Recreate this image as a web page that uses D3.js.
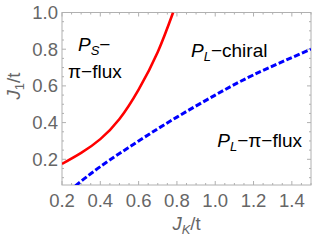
<!DOCTYPE html>
<html>
<head>
<meta charset="utf-8">
<script src="https://cdn.jsdelivr.net/npm/d3@7"></script>
<style>
  body { margin: 0; background: #fff; }
  text { font-family: "Liberation Sans", Arial, sans-serif; }
</style>
</head>
<body>
<div id="chart"></div>
<script>
// boundary curves
var redJK = [0.2, 0.3, 0.4, 0.5, 0.6, 0.7, 0.78];
var redJ1 = [0.175, 0.235, 0.31, 0.42, 0.58, 0.785, 1.0];
var blueJK = [0.27, 0.4, 0.6, 0.8, 1.0, 1.2, 1.5];
var blueJ1 = [0.055, 0.16, 0.3, 0.43, 0.55, 0.66, 0.8];
var xTicks = [0.2, 0.4, 0.6, 0.8, 1.0, 1.2, 1.4];
var yTicks = [0.2, 0.4, 0.6, 0.8, 1.0];

var width = 312, height = 243;
var margin = { left: 62, right: 1, top: 12.5, bottom: 58 };
var grey = '#666';
var frame = '#b0b0b0';

var svg = d3.select('#chart').append('svg')
    .attr('width', width)
    .attr('height', height);

var x = d3.scaleLinear().domain([0.2, 1.5]).range([margin.left, width - margin.right]);
var y = d3.scaleLinear().domain([0.06, 1.0]).range([height - margin.bottom, margin.top]);

var x0 = x.range()[0], x1 = x.range()[1];
var y0 = y.range()[0], y1 = y.range()[1];

// minor ticks every 0.05
var xMinor = d3.range(0.2, 1.5001, 0.05).filter(function (d) { return xTicks.indexOf(+d.toFixed(2)) < 0; });
var yMinor = d3.range(0.1, 1.0001, 0.05).filter(function (d) { return yTicks.indexOf(+d.toFixed(2)) < 0; });

var g = svg.append('g');

// frame ticks, pointing inward on all four sides
function tickLines(vals, len) {
    vals.forEach(function (v) {
        g.append('line').attr('x1', x(v)).attr('x2', x(v)).attr('y1', y0).attr('y2', y0 - len).attr('stroke', frame);
        g.append('line').attr('x1', x(v)).attr('x2', x(v)).attr('y1', y1).attr('y2', y1 + len).attr('stroke', frame);
    });
}
function tickLinesY(vals, len) {
    vals.forEach(function (v) {
        g.append('line').attr('y1', y(v)).attr('y2', y(v)).attr('x1', x0).attr('x2', x0 + len).attr('stroke', frame);
        g.append('line').attr('y1', y(v)).attr('y2', y(v)).attr('x1', x1).attr('x2', x1 - len).attr('stroke', frame);
    });
}
tickLines(xTicks, 4);
tickLines(xMinor, 2);
tickLinesY(yTicks, 4);
tickLinesY(yMinor, 2);

g.append('rect')
    .attr('x', x0).attr('y', y1)
    .attr('width', x1 - x0).attr('height', y0 - y1)
    .attr('fill', 'none').attr('stroke', frame).attr('stroke-width', 1);

// tick labels
g.selectAll('.xl').data(xTicks).enter().append('text')
    .attr('x', function (d) { return x(d); })
    .attr('y', y0 + 22)
    .attr('text-anchor', 'middle')
    .attr('font-size', 18.5)
    .attr('fill', grey)
    .text(function (d) { return d.toFixed(1); });

g.selectAll('.yl').data(yTicks).enter().append('text')
    .attr('x', x0 - 4)
    .attr('y', function (d) { return y(d) + 6.5; })
    .attr('text-anchor', 'end')
    .attr('font-size', 18.5)
    .attr('fill', grey)
    .text(function (d) { return d.toFixed(1); });

// axis titles
var xt = svg.append('text')
    .attr('x', (x0 + x1) / 2)
    .attr('y', 230)
    .attr('text-anchor', 'middle')
    .attr('font-size', 18.5)
    .attr('fill', grey);
xt.append('tspan').attr('font-style', 'italic').text('J');
xt.append('tspan').attr('font-style', 'italic').attr('font-size', 13).attr('dy', 4).text('K');
xt.append('tspan').attr('dy', -4).text('/t');

var yt = svg.append('text')
    .attr('transform', 'translate(20,' + 86 + ') rotate(-90)')
    .attr('text-anchor', 'middle')
    .attr('font-size', 18.5)
    .attr('fill', grey);
yt.append('tspan').attr('font-style', 'italic').text('J');
yt.append('tspan').attr('font-size', 13).attr('dy', 4).text('1');
yt.append('tspan').attr('dy', -4).text('/t');

// curves
svg.append('clipPath').attr('id', 'clip')
    .append('rect').attr('x', x0).attr('y', y1).attr('width', x1 - x0).attr('height', y0 - y1);

var line = d3.line()
    .x(function (d) { return x(d[0]); })
    .y(function (d) { return y(d[1]); })
    .curve(d3.curveNatural);

svg.append('path')
    .attr('clip-path', 'url(#clip)')
    .attr('d', line(d3.zip(redJK, redJ1)))
    .attr('fill', 'none')
    .attr('stroke', '#ff0000')
    .attr('stroke-width', 2.6);

svg.append('path')
    .attr('clip-path', 'url(#clip)')
    .attr('d', line(d3.zip(blueJK, blueJ1)))
    .attr('fill', 'none')
    .attr('stroke', '#0000ff')
    .attr('stroke-width', 3)
    .attr('stroke-dasharray', '6,2.5');

// region labels
function phase(xp, yp, anchor, sub, rest) {
    var t = svg.append('text')
        .attr('x', xp).attr('y', yp)
        .attr('text-anchor', anchor)
        .attr('font-size', 19)
        .attr('fill', '#000');
    t.append('tspan').attr('font-style', 'italic').text('P');
    t.append('tspan').attr('font-style', 'italic').attr('font-size', 13).attr('dy', 4).text(sub);
    t.append('tspan').attr('dy', -4).text(rest);
    return t;
}
phase(78, 51, 'start', 'S', '\u2212');
svg.append('text')
    .attr('x', 68).attr('y', 78)
    .attr('font-size', 19)
    .attr('fill', '#000')
    .text('\u03c0\u2212flux');
phase(191, 57, 'start', 'L', '\u2212chiral');
phase(302, 147, 'end', 'L', '\u2212\u03c0\u2212flux');
</script>
</body>
</html>
